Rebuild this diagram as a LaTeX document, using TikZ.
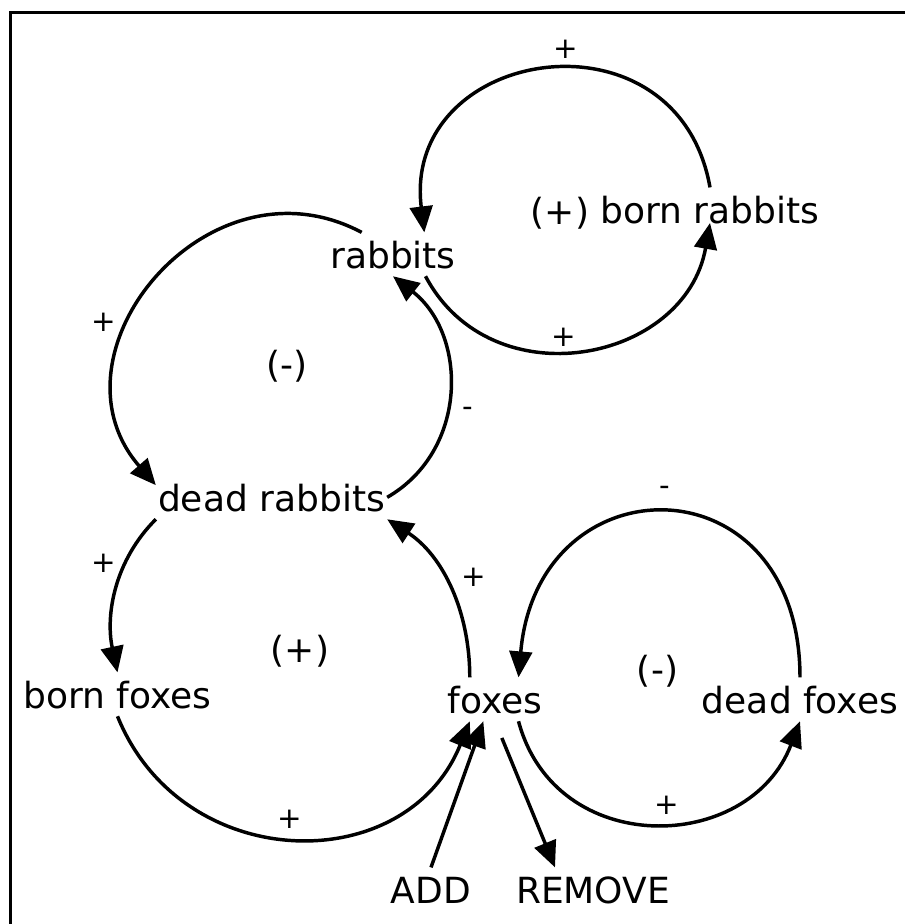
\documentclass[tikz,border=0pt]{standalone}
\usepackage{fontspec}
\setmainfont{DejaVu Sans}
\usetikzlibrary{arrows.meta}
\newcommand{\varfont}{\fontsize{27pt}{32pt}\selectfont}
\newcommand{\labfont}{\fontsize{22pt}{26pt}\selectfont}
\tikzset{
  var/.style={font=\varfont, inner xsep=1.5pt, inner ysep=6pt, text height=20.5pt, text depth=0pt, anchor=base},
  looplab/.style={font=\varfont, inner sep=0pt, anchor=base},
  lab/.style={font=\labfont, inner sep=0pt},
  arr/.style={line width=2.6pt, -{Triangle[length=19.5pt,width=17pt]}},
}
\begin{document}
\begin{tikzpicture}[x=0.75pt,y=0.75pt]
\useasboundingbox (0,0) rectangle (905,-924);
\fill[white] (0,0) rectangle (905,-924);
\draw[line width=2pt] (10.3,-924) -- (10.3,-12.5) -- (905,-12.5);

% variables
\node[var] (rab)  at (393,-268)   {rabbits};
\node[var] (brab) at (710,-223)   {born rabbits};
\node[var] (drab) at (271.5,-511) {dead rabbits};
\node[var] (bfox) at (117.5,-708) {born foxes};
\node[var] (fox)  at (495,-713)   {foxes};
\node[var] (dfox) at (800,-713)   {dead foxes};
\node[var] (add)  at (431,-903)   {ADD};
\node[var] (rem)  at (593,-903)   {REMOVE};

% loop labels
\node[looplab] (L1) at (560,-224)   {(+)};
\node[looplab] (L2) at (287,-377)   {(-)};
\node[looplab] (L3) at (300,-662)   {(+)};
\node[looplab] (L4) at (657.5,-682) {(-)};

% polarity labels
\node[lab] (p1) at (566,-49)  {+};
\node[lab] (p2) at (564,-337) {+};
\node[lab] (p3) at (104,-322) {+};
\node[lab, anchor=base] (m1) at (468,-416) {-};
\node[lab] (p4) at (104,-563) {+};
\node[lab] (p5) at (474,-577) {+};
\node[lab] (p6) at (290,-819) {+};
\node[lab, anchor=base] (m2) at (665,-495) {-};
\node[lab] (p7) at (667,-805) {+};

% connectors
\draw[arr] (brab.north) to[out=100,in=97,looseness=1.66] (rab.35);
\draw[arr] (rab.-34) to[out=-62,in=-100,looseness=1.25] (brab.base);
\draw[arr] (rab.145) to[out=152,in=131,looseness=1.37] (drab.174);
\draw[arr] (drab.east) to[out=30,in=-38,looseness=1.09] (rab.south);
\draw[arr] (drab.south west) to[out=225,in=102,looseness=0.95] (bfox.north);
\draw[arr] (bfox.south) to[out=-68,in=-112,looseness=1.24] (fox.221);
\draw[arr] (fox.139) to[out=90,in=-33,looseness=0.95] (drab.south east);
\draw[arr] (dfox.north) to[out=90,in=85,looseness=2.0] (fox.43);
\draw[arr] (fox.-43) to[out=-75,in=-111,looseness=1.3] (dfox.south);
\draw[arr] (add.north) -- (fox.242);
\draw[arr, shorten <=13.5pt] (fox.south) -- (rem.150);
\end{tikzpicture}
\end{document}
